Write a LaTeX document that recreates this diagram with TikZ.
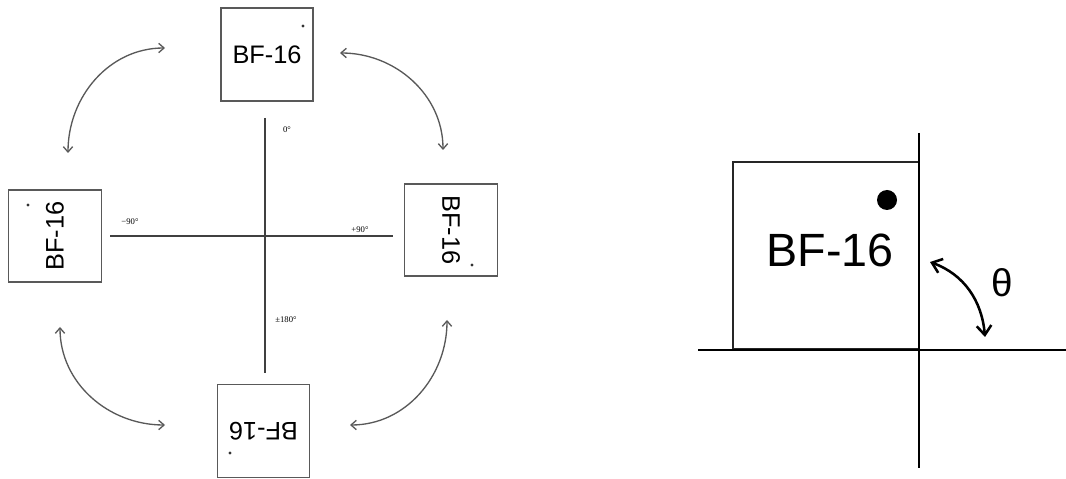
\documentclass[tikz,border=0pt]{standalone}
\usepackage{fontspec}
\setmainfont{Liberation Sans}
\newfontfamily\degfont{Liberation Serif}
\usetikzlibrary{arrows.meta}

\begin{document}
\begin{tikzpicture}[x=0.75pt,y=0.75pt,
		card/.style={draw=black!65, line width=1.1pt, minimum width=69pt, minimum height=70pt, inner sep=0pt, font=\fontsize{19}{19}\selectfont},
		degtext/.style={font=\degfont\fontsize{6.5}{7}\selectfont, inner sep=0pt},
		swing/.style={draw=black!65, line width=1pt, {Straight Barb[length=4pt,width=7pt]}-{Straight Barb[length=4pt,width=7pt]}}]
		
		\useasboundingbox (0,0) rectangle (1066,478);
		
		%%%%% LEFT: FOUR POSITIONS %%%%%
		
		\draw[line width=1pt, color=black!75] (110,242) -- (393,242);
		\draw[line width=1pt, color=black!75] (265,360) -- (265,105);
		
		\node[card] (up) at (267,423.5) {BF-16};
		\node[card, rotate=90] (left) at (55,242) {BF-16};
		\node[card, rotate=-90] (right) at (451,248) {BF-16};
		\node[card, rotate=180] (down) at (263.5,47) {BF-16};
		
		\fill[black!80] (303,452) circle (1.6);
		\fill[black!80] (28,273) circle (1.6);
		\fill[black!80] (472,213) circle (1.6);
		\fill[black!80] (230,25) circle (1.6);
		
		\node[degtext] (zero) at (287,348) {0°};
		\node[degtext] (minus) at (130,256) {−90°};
		\node[degtext] (plus) at (360,248) {+90°};
		\node[degtext] (flip) at (286,158) {±180°};
		
		\coordinate (tlA) at (165,430);
		\coordinate (tlB) at (68,325);
		\coordinate (trA) at (340,425);
		\coordinate (trB) at (443,328);
		\coordinate (blA) at (60,151);
		\coordinate (blB) at (165,53);
		\coordinate (brA) at (447,158);
		\coordinate (brB) at (350,53);
		
		\draw[swing] (tlA) to[out=180,in=90] (tlB);
		\draw[swing] (trA) to[out=0,in=90] (trB);
		\draw[swing] (blA) to[out=270,in=180] (blB);
		\draw[swing] (brA) to[out=270,in=0] (brB);
		
		%%%%% RIGHT: ANGLE %%%%%
		
		\draw[line width=1.6pt, color=black!85] (733,129) rectangle (919,316);
		\draw[line width=2pt] (698,128) -- (1066,128);
		\draw[line width=2pt] (919,345) -- (919,10);
		
		\fill (887,278) circle (10);
		\node[font=\fontsize{35}{35}\selectfont] (tag) at (830,228) {BF-16};
		\node[font=\fontsize{29}{29}\selectfont] (theta) at (1002,195) {θ};
		
		\coordinate (rotA) at (930,216);
		\coordinate (rotB) at (985,141);
		\draw[line width=1.9pt, {Straight Barb[length=7pt,width=11pt]}-{Straight Barb[length=7pt,width=11pt]}] (rotA) to[out=-20,in=95] (rotB);
		
	\end{tikzpicture}
\end{document}
